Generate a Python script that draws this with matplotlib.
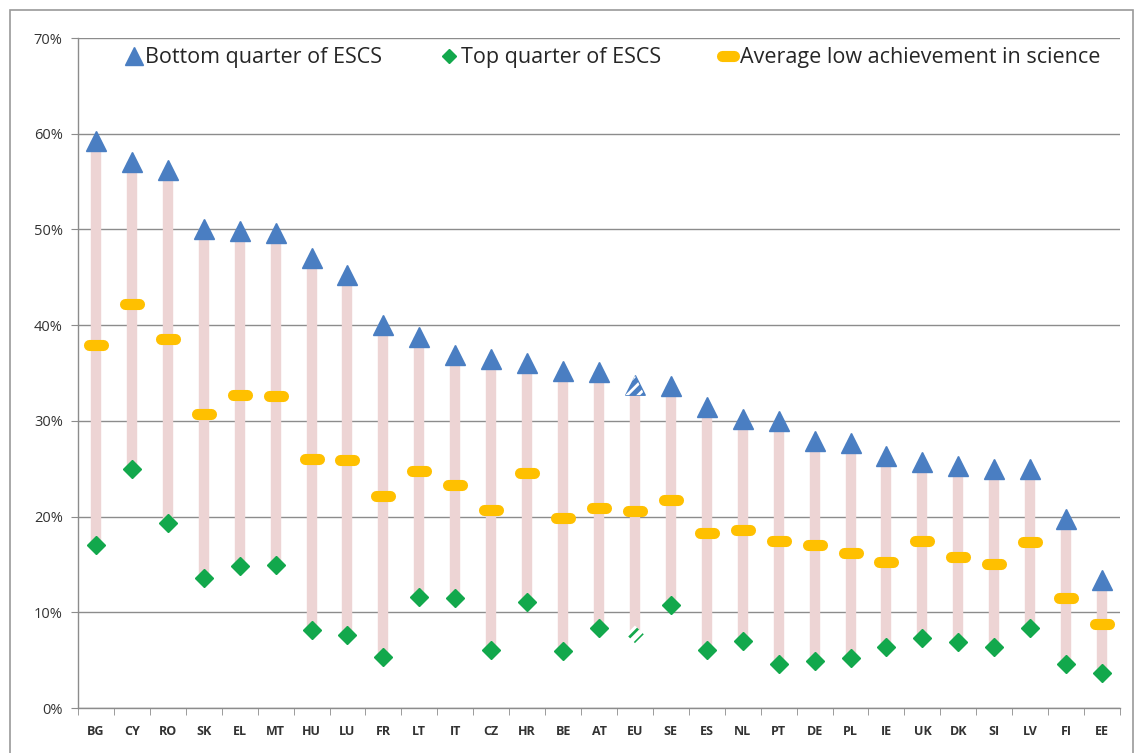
import matplotlib
matplotlib.use("Agg")
import matplotlib.pyplot as plt
from matplotlib.markers import MarkerStyle
from matplotlib.patches import Rectangle
import numpy as np

countries = ["BG", "CY", "RO", "SK", "EL", "MT", "HU", "LU", "FR", "LT", "IT", "CZ", "HR", "BE", "AT",
             "EU", "SE", "ES", "NL", "PT", "DE", "PL", "IE", "UK", "DK", "SI", "LV", "FI", "EE"]
bottom_quarter = [59.2, 57.0, 56.2, 50.0, 49.8, 49.6, 47.0, 45.2, 40.0, 38.8, 36.9, 36.5, 36.0, 35.2, 35.1,
                  33.7, 33.6, 31.5, 30.2, 30.0, 27.9, 27.7, 26.3, 25.7, 25.3, 25.0, 25.0, 19.7, 13.4]
top_quarter = [17.0, 25.0, 19.3, 13.6, 14.8, 14.9, 8.1, 7.6, 5.3, 11.6, 11.5, 6.1, 11.1, 6.0, 8.4,
               7.7, 10.8, 6.1, 7.0, 4.6, 4.9, 5.2, 6.4, 7.3, 6.9, 6.4, 8.4, 4.6, 3.7]
average_low = [37.9, 42.2, 38.6, 30.7, 32.7, 32.6, 26.0, 25.9, 22.1, 24.8, 23.3, 20.7, 24.6, 19.8, 20.9,
               20.6, 21.7, 18.3, 18.6, 17.4, 17.0, 16.2, 15.3, 17.4, 15.8, 15.0, 17.3, 11.5, 8.8]
y_ticks = [0, 10, 20, 30, 40, 50, 60, 70]

BLUE = "#4A7EC2"
GREEN = "#12A84C"
YELLOW = "#FFC000"
PINK = "#EDD4D4"
GRID = "#8C8C8C"

fig = plt.figure(figsize=(11.36, 7.53), dpi=100)
fig.patches.append(Rectangle((10 / 1136, -0.01), 1123 / 1136, 1 - 10 / 753 + 0.01, transform=fig.transFigure,
                             fill=False, edgecolor="#9A9A9A", linewidth=1.2))
ax = fig.add_axes([78 / 1136, 45 / 753, 1042 / 1136, 670 / 753])

x = np.arange(len(countries))
bq = np.array(bottom_quarter)
tq = np.array(top_quarter)
av = np.array(average_low)
eu = countries.index("EU")
mask = np.array([c != "EU" for c in countries])

ax.vlines(x, tq, bq, color=PINK, linewidth=7.5, zorder=2)

ax.plot(x[mask], bq[mask], linestyle="none", marker="^", markersize=14, color=BLUE, zorder=4)
ax.plot(x[mask], tq[mask], linestyle="none", marker="D", markersize=9, color=GREEN, zorder=4)
yellow_marker = MarkerStyle("_", capstyle="round")
ax.plot(x, av, linestyle="none", marker=yellow_marker, markersize=10, markeredgewidth=8,
        color=YELLOW, zorder=5)

# EU markers with hatched appearance
plt.rcParams["hatch.linewidth"] = 2.0
ax.scatter([x[eu]], [bq[eu]], marker="^", s=14 ** 2, color=BLUE, zorder=4)
ax.scatter([x[eu]], [bq[eu]], marker="^", s=14 ** 2, facecolor="none", edgecolor="white",
           hatch="///", linewidth=0, zorder=4.5)
ax.scatter([x[eu]], [tq[eu]], marker="D", s=9 ** 2, facecolor="white", edgecolor=GREEN,
           hatch="///", linewidth=0, zorder=4)

# legend handles
h1, = ax.plot([], [], linestyle="none", marker="^", markersize=13, color=BLUE)
h2, = ax.plot([], [], linestyle="none", marker="D", markersize=7, color=GREEN)
h3, = ax.plot([], [], linestyle="none", marker=yellow_marker, markersize=9, markeredgewidth=8, color=YELLOW)
leg = ax.legend([h1, h2, h3], ["Bottom quarter of ESCS", "Top quarter of ESCS",
                               "Average low achievement in science"],
                loc="upper center", bbox_to_anchor=(0.513, 1.015), ncol=3, frameon=False,
                handlelength=0.8, handletextpad=0.15, columnspacing=2.7,
                prop={"family": "Open Sans", "size": 15.5})
for t in leg.get_texts():
    t.set_color("#262626")

ax.set_xlim(-0.5, len(countries) - 0.5)
ax.set_ylim(0, 70)
ax.set_yticks(y_ticks)
ax.set_yticklabels([f"{v}%" for v in y_ticks], fontfamily="Open Sans", fontsize=10.5, color="#333333")
ax.set_xticks(x)
ax.set_xticklabels(countries, fontfamily="Open Sans", fontsize=9, fontweight="bold", color="#333333")
ax.set_xticks(np.arange(-0.5, len(countries), 1), minor=True)
ax.tick_params(axis="x", which="major", length=0, pad=12)
ax.tick_params(axis="x", which="minor", length=5, color=GRID, direction="out")
ax.tick_params(axis="y", length=5, color=GRID, pad=6)

ax.grid(axis="y", color=GRID, linewidth=1.0, zorder=0)
ax.set_axisbelow(True)
for side in ["top", "right"]:
    ax.spines[side].set_visible(False)
for side in ["left", "bottom"]:
    ax.spines[side].set_color(GRID)
    ax.spines[side].set_linewidth(1.0)

fig.savefig("out.png", dpi=100)
